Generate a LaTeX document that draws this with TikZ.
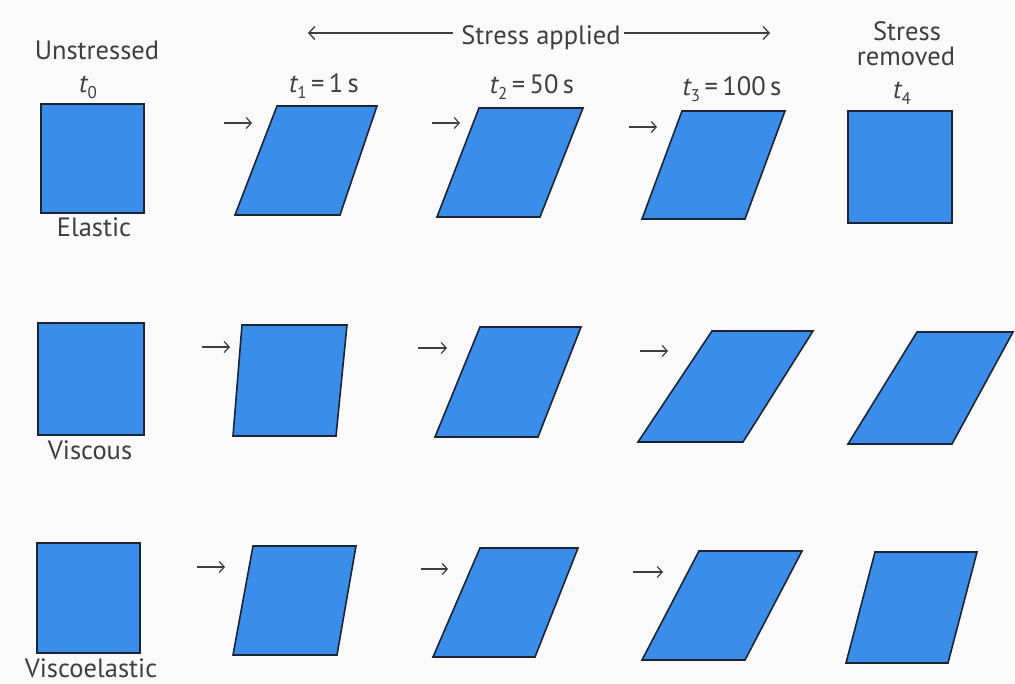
\documentclass[tikz,border=0pt]{standalone}
\usepackage{fontspec}
\setmainfont{PT Sans}
\usetikzlibrary{arrows.meta}
\definecolor{sheetblue}{RGB}{58,141,232}
\definecolor{edgecol}{RGB}{28,36,52}
\definecolor{ink}{RGB}{62,62,62}
\definecolor{bgcol}{RGB}{250,250,250}
\newcommand{\tvar}[1]{{\itshape t}\raisebox{-0.4ex}{\fontsize{17}{17}\selectfont #1}}
\begin{document}
\begin{tikzpicture}[x=1pt,y=-1pt,
  sheet/.style={fill=sheetblue, draw=edgecol, line width=1.6pt, line join=miter},
  lbl/.style={text=ink, font=\fontsize{26.5}{28}\selectfont, inner sep=0pt, anchor=base},
  push/.style={draw=ink, line width=1.2pt, -{Straight Barb[length=5pt,width=11pt]}},
  span/.style={draw=ink, line width=1.3pt, -{Straight Barb[length=6pt,width=13pt]}}]
\fill[bgcol] (0,0) rectangle (1015,684);
\useasboundingbox (0,0) rectangle (1015,684);

% header
\node[lbl] (unstr) at (97,60) {Unstressed};
\node[lbl] (tz) at (88,93) {\tvar{0}};
\node[lbl] (applied) at (541,45) {Stress applied};
\coordinate (appL) at (308,33);
\coordinate (appR) at (770,33);
\draw[span] (applied.west |- appL) ++(-8,0) -- (appL);
\draw[span] (applied.east |- appR) ++(3,0) -- (appR);
\node[lbl] (tone) at (324,93) {\tvar{1}\,=\,1\,s};
\node[lbl] (ttwo) at (532,94) {\tvar{2}\,=\,50\,s};
\node[lbl] (tthree) at (732,96) {\tvar{3}\,=\,100\,s};
\node[lbl] (sr1) at (907,41) {Stress};
\node[lbl] (sr2) at (906,66) {removed};
\node[lbl] (tfour) at (902,99) {\tvar{4}};
\node[lbl] (el) at (94,237) {Elastic};
\node[lbl] (vi) at (90,460) {Viscous};
\node[lbl] (ve) at (91,677) {Viscoelastic};

% row 1 : elastic
\draw[sheet] (41,104) -- (144,104) -- (144,213) -- (41,213) -- cycle;
\draw[sheet] (277,106) -- (377,106) -- (340,215) -- (235,215) -- cycle;
\draw[sheet] (479,108) -- (583,108) -- (540,217) -- (437,217) -- cycle;
\draw[sheet] (682,111) -- (785,111) -- (745,219) -- (642,219) -- cycle;
\draw[sheet] (848,111) -- (952,111) -- (952,223) -- (848,223) -- cycle;
\coordinate (a11) at (224,123); \coordinate (b11) at (252,123);
\coordinate (a12) at (432,123); \coordinate (b12) at (460,123);
\coordinate (a13) at (629,127); \coordinate (b13) at (657,127);
\draw[push] (a11) -- (b11);
\draw[push] (a12) -- (b12);
\draw[push] (a13) -- (b13);

% row 2 : viscous
\draw[sheet] (38,323) -- (144,323) -- (144,435) -- (38,435) -- cycle;
\draw[sheet] (242,325) -- (347,325) -- (336,436) -- (233,436) -- cycle;
\draw[sheet] (480,327) -- (581,327) -- (538,437) -- (435,437) -- cycle;
\draw[sheet] (712,331) -- (813,331) -- (743,442) -- (638,442) -- cycle;
\draw[sheet] (917,332) -- (1013,332) -- (952,444) -- (848,444) -- cycle;
\coordinate (a21) at (202,347); \coordinate (b21) at (230,347);
\coordinate (a22) at (418,348); \coordinate (b22) at (447,348);
\coordinate (a23) at (640,351); \coordinate (b23) at (668,351);
\draw[push] (a21) -- (b21);
\draw[push] (a22) -- (b22);
\draw[push] (a23) -- (b23);

% row 3 : viscoelastic
\draw[sheet] (37,543) -- (140,543) -- (140,653) -- (37,653) -- cycle;
\draw[sheet] (253,546) -- (356,546) -- (337,655) -- (233,655) -- cycle;
\draw[sheet] (480,548) -- (578,548) -- (535,657) -- (433,657) -- cycle;
\draw[sheet] (699,551) -- (802,551) -- (745,660) -- (642,660) -- cycle;
\draw[sheet] (875,552) -- (977,552) -- (948,663) -- (846,663) -- cycle;
\coordinate (a31) at (197,567); \coordinate (b31) at (225,567);
\coordinate (a32) at (421,569); \coordinate (b32) at (448,569);
\coordinate (a33) at (633,572); \coordinate (b33) at (663,572);
\draw[push] (a31) -- (b31);
\draw[push] (a32) -- (b32);
\draw[push] (a33) -- (b33);
\end{tikzpicture}
\end{document}
